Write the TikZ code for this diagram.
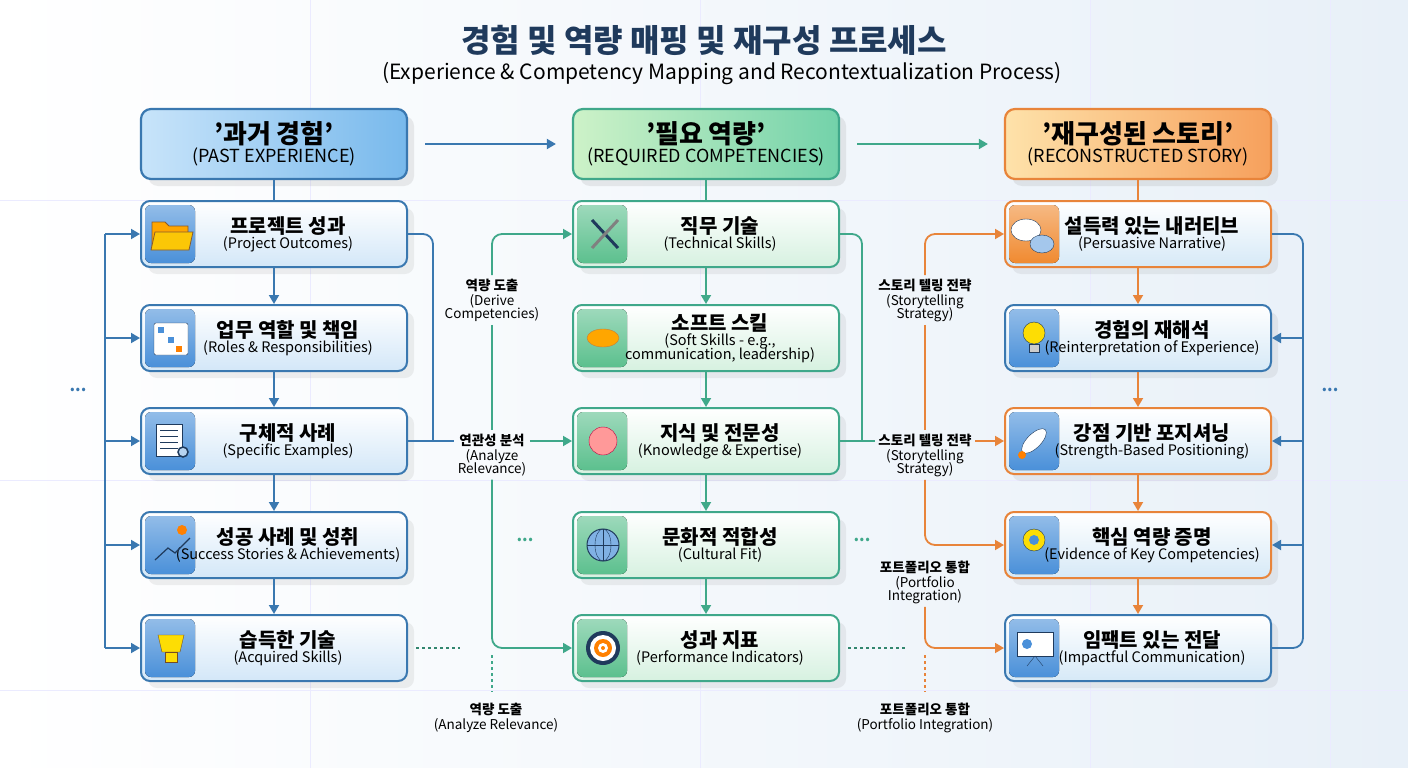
\documentclass[tikz,border=0pt]{standalone}
\usepackage{fontspec}
\setmainfont{Noto Sans CJK KR}
\usetikzlibrary{shadows,arrows.meta,calc}
\definecolor{bb}{HTML}{3A78B0}
\definecolor{gb}{HTML}{3FA88A}
\definecolor{ob}{HTML}{E8843A}
\definecolor{navy}{HTML}{1F3A5C}
\definecolor{bfill}{HTML}{D3E7F8}
\definecolor{gfill}{HTML}{D6F1E0}
\definecolor{ofill}{HTML}{D6E9F7}
\definecolor{tile}{HTML}{4A90D9}
\definecolor{tileg}{HTML}{5CC08E}
\definecolor{tileo}{HTML}{F08A30}
\definecolor{bgr}{HTML}{E8F0F8}
\tikzset{
  x=1pt,y=-1pt,
  box/.style={draw=#1, line width=2pt, rounded corners=9pt, minimum width=266pt, minimum height=66pt,
    drop shadow={opacity=0.12,shadow xshift=7pt,shadow yshift=-7pt}},
  arr/.style={line width=1.8pt,-{Triangle[length=9pt,width=10pt]}},
  ln/.style={line width=1.8pt, rounded corners=10pt},
  lab/.style={align=center, font=\fontsize{13.5}{15}\selectfont, text=black},
  hdr/.style={draw=#1, line width=2.2pt, rounded corners=10pt, minimum width=266pt, minimum height=70pt,
   drop shadow={opacity=0.15,shadow xshift=7pt,shadow yshift=-7pt}},
}
\newcommand\mkbox[9]{% name,x,y,border,fillA,tileA,tileB,kor,eng
  \node[box=#4, top color=white, bottom color=#5, draw=#4] (#1) at (#2,#3) {};
  \fill[rounded corners=6pt, top color=#6, bottom color=#7] ($(#1.north west)+(5,5)$) rectangle ($(#1.south west)+(55,-5)$);
  \node[align=center, anchor=center, font=\fontsize{14.5}{17}\selectfont] (#1t) at ($(#1.center)+(14,0)$) {\textbf{\fontsize{20}{24}\selectfont #8}\\[-2pt]#9};
}
\begin{document}
\begin{tikzpicture}
\useasboundingbox (0,0) rectangle (1408,768);
\fill[left color=white, right color=bgr] (0,0) rectangle (1408,768);
\foreach \x in {310,700,1090,1330} \draw[blue!8, line width=0.6pt] (\x,0) -- (\x,768);
\foreach \y in {200,480,690} \draw[blue!8, line width=0.6pt] (0,\y) -- (1408,\y);

% title
\node[text=navy, font=\bfseries\fontsize{32}{36}\selectfont] (title) at (704,40) {경험 및 역량 매핑 및 재구성 프로세스};
\node[text=black, font=\fontsize{21}{24}\selectfont] (sub) at (722,74) {(Experience \& Competency Mapping and Recontextualization Process)};

% headers
\node[hdr=bb, left color={rgb,255:red,200;green,228;blue,250}, right color={rgb,255:red,120;green,185;blue,236}, align=center, font=\fontsize{18}{20}\selectfont] (h1) at (274,144)
  {\textbf{\fontsize{26}{28}\selectfont '과거 경험'}\\[-1pt](PAST EXPERIENCE)};
\node[hdr=gb, left color={rgb,255:red,205;green,242;blue,200}, right color={rgb,255:red,115;green,210;blue,170}, align=center, font=\fontsize{18}{20}\selectfont] (h2) at (706,144)
  {\textbf{\fontsize{26}{28}\selectfont '필요 역량'}\\[-1pt](REQUIRED COMPETENCIES)};
\node[hdr=ob, left color={rgb,255:red,254;green,226;blue,170}, right color={rgb,255:red,246;green,160;blue,92}, align=center, font=\fontsize{18}{20}\selectfont] (h3) at (1138,144)
  {\textbf{\fontsize{26}{28}\selectfont '재구성된 스토리'}\\[-1pt](RECONSTRUCTED STORY)};
\draw[arr, bb] ($(h1.east)+(17,0)$) -- ($(h2.west)+(-16,0)$);
\draw[arr, gb] ($(h2.east)+(17,0)$) -- ($(h3.west)+(-16,0)$);

% left column
\mkbox{L1}{274}{234}{bb}{bfill}{tile!60}{tile}{프로젝트 성과}{(Project Outcomes)}
\mkbox{L2}{274}{338}{bb}{bfill}{tile!60}{tile}{업무 역할 및 책임}{(Roles \& Responsibilities)}
\mkbox{L3}{274}{441}{bb}{bfill}{tile!60}{tile}{구체적 사례}{(Specific Examples)}
\mkbox{L4}{274}{545}{bb}{bfill}{tile!60}{tile}{성공 사례 및 성취}{(Success Stories \& Achievements)}
\mkbox{L5}{274}{648}{bb}{bfill}{tile!60}{tile}{습득한 기술}{(Acquired Skills)}
% middle
\mkbox{M1}{706}{234}{gb}{gfill}{tileg!60}{tileg}{직무 기술}{(Technical Skills)}
\mkbox{M2}{706}{338}{gb}{gfill}{tileg!60}{tileg}{소프트 스킬}{(Soft Skills - e.g.,\\[-3pt] communication, leadership)}
\mkbox{M3}{706}{441}{gb}{gfill}{tileg!60}{tileg}{지식 및 전문성}{(Knowledge \& Expertise)}
\mkbox{M4}{706}{545}{gb}{gfill}{tileg!60}{tileg}{문화적 적합성}{(Cultural Fit)}
\mkbox{M5}{706}{648}{gb}{gfill}{tileg!60}{tileg}{성과 지표}{(Performance Indicators)}
% right
\mkbox{R1}{1138}{234}{ob}{ofill}{tileo!60}{tileo}{설득력 있는 내러티브}{(Persuasive Narrative)}
\mkbox{R2}{1138}{338}{bb}{ofill}{tile!60}{tile}{경험의 재해석}{(Reinterpretation of Experience)}
\mkbox{R3}{1138}{441}{ob}{ofill}{tile!60}{tile}{강점 기반 포지셔닝}{(Strength-Based Positioning)}
\mkbox{R4}{1138}{545}{ob}{ofill}{tile!60}{tile}{핵심 역량 증명}{(Evidence of Key Competencies)}
\mkbox{R5}{1138}{648}{bb}{ofill}{tile!60}{tile}{임팩트 있는 전달}{(Impactful Communication)}

% simple icons
\fill[orange!70!yellow, draw=brown!70!black, line width=0.8pt] (152,222) -- (165,222) -- (169,226) -- (188,226) -- (188,248) -- (152,248) -- cycle;
\fill[yellow!60!orange, draw=brown!70!black, line width=0.8pt] (155,232) -- (193,232) -- (189,250) -- (151,250) -- cycle;
\draw[fill=white, draw=navy, rounded corners=2pt] (154,323) rectangle (188,355);
\fill[tile] (158,327) rectangle (164,333); \fill[tile] (168,337) rectangle (174,343); \fill[orange] (176,346) rectangle (182,352);
\draw[fill=white, draw=navy] (156,424) rectangle (182,456);
\foreach \yy in {430,436,442,448} \draw[navy] (160,\yy) -- (178,\yy);
\draw[navy, line width=1.5pt, fill=tile!40] (183,452) circle (5);
\draw[navy, line width=1.2pt] (155,560) -- (168,548) -- (175,553) -- (190,538);
\fill[orange] (182,530) circle (5);
\fill[yellow!80!orange, draw=brown!60!black] (158,635) -- (184,635) -- (180,652) -- (162,652) -- cycle;
\fill[yellow!80!orange, draw=brown!60!black] (165,652) rectangle (177,662);
\draw[navy, line width=3pt] (592,220) -- (618,248); \draw[gray, line width=3pt] (618,220) -- (592,248);
\fill[orange!70!yellow, draw=brown] (603,338) ellipse (16 and 9);
\fill[pink!80!red, draw=purple] (603,441) circle (14);
\draw[navy, fill=tile!70, line width=1pt] (603,545) circle (16); \draw[navy] (587,545) -- (619,545) (603,529) -- (603,561); \draw[navy] (603,545) ellipse (8 and 16);
\foreach \r/\c in {17/navy,13/white,9/orange,5/white,2/orange} \fill[\c] (603,648) circle (\r);
\fill[white, draw=navy] (1026,230) ellipse (15 and 11); \fill[tile!50, draw=navy] (1042,244) ellipse (12 and 9);
\fill[yellow!80!orange, draw=navy] (1034,333) circle (11); \fill[gray!40, draw=navy] (1029,344) rectangle (1039,352);
\fill[white, draw=navy, rotate around={45:(1034,441)}] (1034,441) ellipse (16 and 7); \fill[orange] (1022,455) circle (4);
\fill[yellow!80!orange, draw=navy] (1034,540) circle (11); \fill[tile] (1034,540) circle (5);
\fill[white, draw=navy] (1017,632) rectangle (1053,656); \draw[navy] (1035,656) -- (1027,666) (1035,656) -- (1043,666);
\fill[tile] (1027,644) circle (5);

% vertical arrows
\foreach \c/\col in {L/bb,M/gb,R/ob}{
  \draw[arr,\col] (\c1.south) -- (\c2.north);
  \draw[arr,\col] (\c2.south) -- (\c3.north);
  \draw[arr,\col] (\c3.south) -- (\c4.north);
  \draw[arr,\col] (\c4.south) -- (\c5.north);
}
\draw[line width=1.8pt, bb] (h1.south) -- (L1.north);
\draw[line width=1.8pt, gb] (h2.south) -- (M1.north);
\draw[line width=1.8pt, ob] (h3.south) -- (R1.north);

% left bracket
\coordinate (lb) at (105,0);
\draw[ln, bb] (L1.west -| lb) -- (L5.west -| lb);
\foreach \n in {L1,L2,L3,L4,L5} \draw[arr,bb] (\n.west -| lb) -- (\n.west);
\node[text=bb, font=\bfseries\fontsize{16}{16}\selectfont] (dl) at (78,390) {...};

% right bracket
\coordinate (rb) at (1303,0);
\draw[ln,bb] (R1.east) -- (R1.east -| rb) -- (R5.east -| rb) -- (R5.east);
\foreach \n in {R2,R3,R4} \draw[arr,bb] (\n.east -| rb) -- (\n.east);
\node[text=bb, font=\bfseries\fontsize{16}{16}\selectfont] (dr) at (1330,390) {...};

% left-to-middle connectors
\node[lab] (la1) at (492,300) {\textbf{역량 도출}\\(Derive\\[-2pt]Competencies)};
\node[lab] (la2) at (492,455) {\textbf{연관성 분석}\\(Analyze\\[-2pt]Relevance)};
\draw[ln,bb] (L1.east) -- (433,234) -- (433,441);
\draw[line width=1.8pt,bb] (L3.east) -- (la2.west |- L3.east);
\draw[arr,gb] (la2.east |- M3.west) -- (M3.west);
\draw[ln,gb] (la1.north) -- (492,234) -- (525,234);
\draw[arr,gb] (520,234) -- (M1.west);
\draw[line width=1.8pt,gb] (la1.south) -- (la2.north);
\draw[ln,gb] (la2.south) -- (492,648) -- (525,648);
\draw[arr,gb] (520,648) -- (M5.west);
\draw[gb!80!black, line width=1.4pt, dashed] ($(L5.east)+(8,0)$) -- (460,648);
\draw[gb, line width=1.4pt, dashed] (492,655) -- (492,692);
\node[lab] (la3) at (496,718) {\textbf{역량 도출}\\(Analyze Relevance)};
\node[text=gb, font=\bfseries\fontsize{16}{16}\selectfont] (dm1) at (525,540) {...};

% middle-to-right connectors
\node[lab] (rb1) at (925,300) {\textbf{스토리 텔링 전략}\\(Storytelling\\[-2pt]Strategy)};
\node[lab] (rb2) at (925,455) {\textbf{스토리 텔링 전략}\\(Storytelling\\[-2pt]Strategy)};
\node[lab] (rb3) at (925,582) {\textbf{포트폴리오 통합}\\(Portfolio\\[-2pt]Integration)};
\draw[ln,gb] (M1.east) -- (862,234) -- (862,441);
\draw[line width=1.8pt,gb] (M3.east) -- (rb2.west |- M3.east);
\draw[arr,ob] (rb2.east |- R3.west) -- (R3.west);
\draw[ln,ob] (rb1.north) -- (925,234) -- (960,234);
\draw[arr,ob] (955,234) -- (R1.west);
\draw[line width=1.8pt,ob] (rb1.south) -- (rb2.north);
\draw[ln,ob] (rb2.south) -- (925,545) -- (960,545);
\draw[arr,ob] (955,545) -- (R4.west);
\draw[ln,ob] (rb3.south) -- (925,648) -- (960,648);
\draw[arr,ob] (955,648) -- (R5.west);
\draw[gb!80!black, line width=1.4pt, dashed] ($(M5.east)+(8,0)$) -- (905,648);
\draw[ob, line width=1.4pt, dashed] (925,655) -- (925,692);
\node[lab] (rb4) at (925,718) {\textbf{포트폴리오 통합}\\(Portfolio Integration)};
\node[text=gb, font=\bfseries\fontsize{16}{16}\selectfont] (dm2) at (862,540) {...};
\end{tikzpicture}
\end{document}
